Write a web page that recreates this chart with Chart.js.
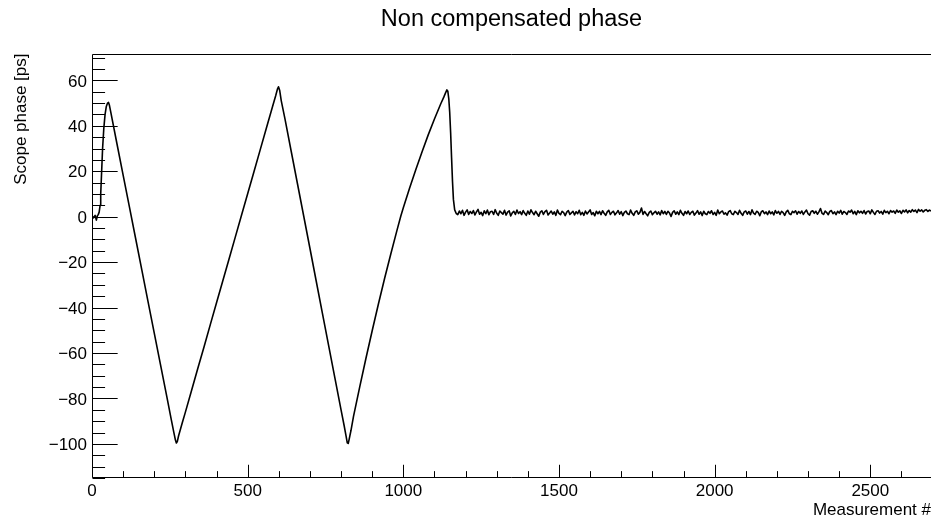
<!DOCTYPE html>
<html><head><meta charset="utf-8">
<script src="https://cdn.jsdelivr.net/npm/chart.js@4"></script>
<style>html,body{margin:0;padding:0;background:#fff}canvas{display:block}</style>
</head><body>
<canvas id="c" width="931" height="517"></canvas>
<script>
// ---- data ----
const rampX = [0,5,10,14,17,20,23,26,28,31,34,38,42,46,50,53,56,60,80,100,120,140,160,180,200,220,240,255,263,268,271,274,278,290,300,320,340,360,380,400,420,440,460,480,500,520,540,560,580,590,596,599,603,608,620,640,660,680,700,720,740,760,780,800,810,816,820,823,826,832,840,860,880,900,920,940,960,980,992,1000,1020,1040,1060,1080,1100,1120,1130,1136,1140,1143,1146,1149,1152,1155,1158,1161,1165,1170];
const rampY = [0.5,-0.5,0.6,-1.5,0.3,0.9,2,5,10,20,30,39,45,48.5,50,50.3,49,46.2,32.2,18.3,4.4,-9.5,-23.4,-37.4,-51.2,-65.1,-79,-89.5,-95,-98.3,-99.6,-99,-96.5,-90.7,-86,-76.4,-66.7,-57.2,-47.5,-37.9,-28.3,-18.7,-9.1,0.5,10.1,19.7,29.3,38.9,48.5,53.2,56.3,57.2,55.5,51,42.9,28.7,14.5,0.3,-13.9,-28.2,-42.4,-56.6,-70.8,-85,-92,-96.5,-99.5,-99.8,-98,-94,-87.9,-74.9,-62.3,-50.2,-38.4,-27.1,-16.3,-5.8,0.3,3.9,12.5,20.7,28.5,36,43,49.6,52.6,54.6,55.8,55.2,52,46,37,26,15.5,7.5,3,1.4];
const flatStart = 1175, flatStep = 5;
const flatY = [
0.9,2.5,1.3,2.8,0.6,2.0,3.0,1.0,2.3,1.4,
2.7,0.8,2.1,3.2,1.1,1.9,0.5,2.6,1.3,2.9,
0.9,2.2,2.4,1.0,3.1,1.5,0.6,2.5,1.8,1.1,
2.8,0.7,2.0,2.6,0.3,1.7,2.4,1.0,2.9,1.4,
2.2,0.9,2.7,1.5,0.6,2.5,1.1,3.0,1.8,0.9,
2.4,1.3,0.2,2.0,2.6,1.0,2.2,2.8,0.8,1.6,
2.5,1.1,2.1,0.6,2.9,1.5,0.9,2.4,1.8,0.5,
2.0,2.7,1.0,1.7,2.4,0.8,2.2,1.3,2.8,0.9,
1.9,0.6,2.5,1.2,2.1,3.0,1.0,1.8,0.4,2.4,
1.3,2.3,0.9,2.6,1.5,0.6,2.1,2.8,1.0,1.9,
2.4,0.8,1.7,2.7,1.1,2.2,0.5,1.9,2.5,1.3,
0.9,2.9,1.5,0.6,2.1,2.6,1.1,1.9,3.8,1.0,
2.3,1.3,0.4,1.9,2.5,0.9,1.7,2.4,1.1,2.1,
0.8,2.7,1.3,2.3,1.0,2.4,1.6,0.1,1.9,2.6,
1.1,2.1,0.9,2.8,1.5,0.6,2.3,1.3,2.5,1.0,
1.9,2.4,0.7,1.6,2.7,1.1,2.1,0.5,2.4,1.3,
0.9,2.3,1.5,2.6,1.0,1.9,0.6,2.9,1.3,2.1,
2.5,1.1,1.7,0.7,2.2,2.7,1.3,0.9,2.4,1.8,
1.0,2.8,1.5,0.6,2.1,2.5,1.1,2.3,0.9,3.0,
1.6,1.0,2.4,1.9,0.4,2.2,2.6,1.3,2.1,0.9,
2.5,1.3,2.1,0.8,2.7,1.5,2.3,1.0,2.4,1.8,
0.6,2.1,2.8,1.3,0.9,2.4,1.8,2.6,1.1,2.3,
1.5,2.5,1.0,2.1,2.9,1.3,0.7,2.3,2.6,1.5,
2.4,1.1,2.1,3.6,1.5,1.0,2.5,1.8,0.9,2.3,
2.7,1.3,2.1,0.9,2.4,1.6,2.8,1.1,2.3,1.8,
1.0,2.5,2.0,2.9,1.3,2.3,0.9,2.6,1.7,2.4,
1.5,2.7,1.2,2.3,2.5,1.3,3.0,1.9,1.0,2.4,
2.6,1.6,2.3,1.1,2.8,1.8,2.4,1.3,2.7,2.0,
2.5,1.5,2.9,2.0,2.6,1.4,2.8,2.1,3.0,1.7,
2.7,2.0,3.1,2.3,2.9,1.8,3.2,2.4,3.0,2.1,
2.8,3.1,2.3,2.9,2.5];
const xMajorTicks = [0,500,1000,1500,2000,2500];
const yMajorTicks = [-100,-80,-60,-40,-20,0,20,40,60];
const xMinorStep = 100, yMinorStep = 5;
const xRange = [0, 2695];
const yRange = [-115, 71.6];
const titleText = 'Non compensated phase';
const xTitle = 'Measurement #';
const yTitle = 'Scope phase [ps]';

// ---- build ----
const points = rampX.map((x, i) => ({x, y: rampY[i]}))
  .concat(flatY.map((y, i) => ({x: flatStart + i * flatStep, y})));
const FONT = '"Liberation Sans", Arial, Helvetica, sans-serif';
const fmt = v => v < 0 ? '\u2212' + Math.abs(v) : String(v);

const frame = {
  id: 'frame',
  afterDraw(chart) {
    const {ctx, chartArea: a, scales: {x, y}} = chart;
    const w = a.right - a.left, h = a.bottom - a.top;
    ctx.save();
    ctx.strokeStyle = '#000';
    ctx.lineWidth = 1;
    ctx.beginPath();
    const L = a.left + 0.5, B = a.bottom - 0.5, T = a.top + 0.5;
    ctx.moveTo(L, T); ctx.lineTo(a.right, T);
    ctx.moveTo(L, T); ctx.lineTo(L, B);
    ctx.moveTo(L, B); ctx.lineTo(a.right, B);
    for (let v = Math.ceil(y.min / yMinorStep) * yMinorStep; v <= y.max + 1e-9; v += yMinorStep) {
      const py = Math.round(y.getPixelForValue(v)) + 0.5;
      const len = yMajorTicks.includes(v) ? 0.03 * w : 0.015 * w;
      ctx.moveTo(L, py); ctx.lineTo(L + len, py);
    }
    for (let v = Math.ceil(x.min / xMinorStep) * xMinorStep; v <= x.max + 1e-9; v += xMinorStep) {
      const px = Math.round(x.getPixelForValue(v)) + 0.5;
      const len = xMajorTicks.includes(v) ? 0.03 * h : 0.015 * h;
      ctx.moveTo(px, B); ctx.lineTo(px, B - len);
    }
    ctx.stroke();

    ctx.fillStyle = '#000';
    ctx.font = '17px ' + FONT;
    ctx.textBaseline = 'alphabetic';
    ctx.textAlign = 'right';
    yMajorTicks.forEach(v => {
      ctx.fillText(fmt(v), a.left - 5, y.getPixelForValue(v) + 6.2);
    });
    ctx.textAlign = 'center';
    xMajorTicks.forEach(v => {
      ctx.fillText(fmt(v), x.getPixelForValue(v), a.bottom + 17.5);
    });
    ctx.textAlign = 'right';
    ctx.fillText(xTitle, 931, 515);
    ctx.save();
    ctx.translate(25.5, a.top - 0.5);
    ctx.rotate(-Math.PI / 2);
    ctx.textAlign = 'right';
    ctx.fillText(yTitle, 0, 0);
    ctx.restore();
    ctx.font = '23.5px ' + FONT;
    ctx.textAlign = 'center';
    ctx.fillText(titleText, 511.5, 26);
    ctx.restore();
  }
};

new Chart(document.getElementById('c'), {
  type: 'scatter',
  data: {
    datasets: [{
      data: points,
      showLine: true,
      pointRadius: 0,
      pointHoverRadius: 0,
      borderColor: '#000',
      backgroundColor: '#000',
      borderWidth: 1.6,
      borderJoinStyle: 'round',
      tension: 0
    }]
  },
  options: {
    responsive: false,
    devicePixelRatio: 1,
    animation: false,
    events: [],
    layout: {padding: {top: 54, left: 0, right: 0, bottom: 0}},
    plugins: {legend: {display: false}, title: {display: false}, tooltip: {enabled: false}},
    scales: {
      x: {
        type: 'linear', min: xRange[0], max: xRange[1],
        grid: {display: false, drawTicks: false}, border: {display: false},
        ticks: {display: false},
        afterFit: s => { s.height = 39; }
      },
      y: {
        type: 'linear', min: yRange[0], max: yRange[1],
        grid: {display: false, drawTicks: false}, border: {display: false},
        ticks: {display: false},
        afterFit: s => { s.width = 92; }
      }
    }
  },
  plugins: [frame]
});
</script>
</body></html>
